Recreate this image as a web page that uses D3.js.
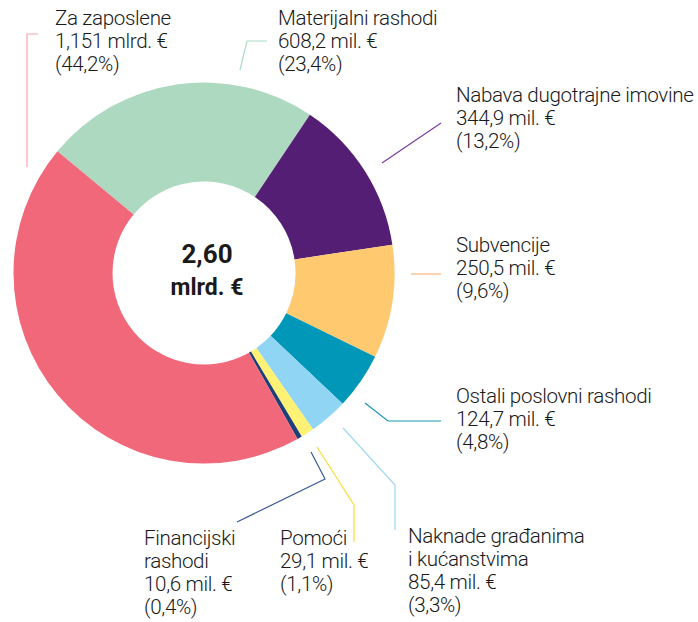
<!DOCTYPE html>
<html>
<head>
<meta charset="utf-8">
<script src="https://cdn.jsdelivr.net/npm/d3@7"></script>
<style>
  body { margin: 0; background: #fff; }
  svg text { font-family: Roboto, "Noto Sans", sans-serif; fill: #1a1a1a; }
</style>
</head>
<body>
<svg id="chart" width="698" height="622"></svg>
<script>
// slice order, clockwise from top-left
const categories = ['Materijalni rashodi', 'Nabava dugotrajne imovine', 'Subvencije',
  'Ostali poslovni rashodi', 'Naknade građanima i kućanstvima', 'Pomoći',
  'Financijski rashodi', 'Za zaposlene'];
const values = [608.2, 344.9, 250.5, 124.7, 85.4, 29.1, 10.6, 1151];
const valueLabels = ['608,2 mil. €', '344,9 mil. €', '250,5 mil. €', '124,7 mil. €',
  '85,4 mil. €', '29,1 mil. €', '10,6 mil. €', '1,151 mlrd. €'];
const shareLabels = ['(23,4%)', '(13,2%)', '(9,6%)', '(4,8%)', '(3,3%)', '(1,1%)', '(0,4%)', '(44,2%)'];
const nameLines = [['Materijalni rashodi'], ['Nabava dugotrajne imovine'], ['Subvencije'],
  ['Ostali poslovni rashodi'], ['Naknade građanima', 'i kućanstvima'], ['Pomoći'],
  ['Financijski', 'rashodi'], ['Za zaposlene']];
const totalLines = ['2,60', 'mlrd. €'];

const colors = ['#acd9bf', '#541e74', '#fec96f', '#0097b9', '#90d6f4', '#fff173', '#1f3f78', '#f0687a'];
const leaderColors = ['#a9dcc2', '#7a3d9c', '#f9b27a', '#1a97b5', '#9fd8f2', '#f5e03a', '#3a5a92', '#f5a3ac'];

// label placement (layout only)
const labelPos = [
  { x: 278, y: 25, line: [[240, 70], [247, 41], [267, 41]] },
  { x: 456, y: 102, line: [[382, 163], [441, 123]] },
  { x: 456, y: 252, line: [[411, 274], [441, 274]] },
  { x: 456, y: 403, line: [[365, 403], [388, 421], [441, 421]] },
  { x: 408, y: 543, line: [[343, 428], [395, 485], [395, 530]] },
  { x: 280, y: 545, line: [[317, 447], [354, 505], [354, 542]] },
  { x: 144, y: 545, line: [[311, 452], [325, 479], [237, 522]] },
  { x: 55, y: 25, line: [[38, 34], [27, 34], [27, 167]] }
];

const cx = 204, cy = 273, outerR = 190.5, innerR = 91.5;
const lineH = 23;
const svg = d3.select('#chart');

const startAngle = -50.3 * Math.PI / 180;

const pie = d3.pie()
  .sort(null)
  .value(d => d)
  .startAngle(startAngle)
  .endAngle(startAngle + 2 * Math.PI);

const arc = d3.arc().innerRadius(innerR).outerRadius(outerR);

const g = svg.append('g').attr('transform', `translate(${cx},${cy})`);
g.selectAll('path.slice')
  .data(pie(values))
  .join('path')
  .attr('class', 'slice')
  .attr('d', arc)
  .attr('fill', (d, i) => colors[i]);

// center total
svg.append('g')
  .selectAll('text')
  .data(totalLines)
  .join('text')
  .attr('x', cx + 3)
  .attr('y', (d, i) => [263, 295][i])
  .attr('text-anchor', 'middle')
  .style('font-weight', 700)
  .style('font-size', (d, i) => i === 0 ? '26px' : '23px')
  .text(d => d);

// leader lines
const line = d3.line();
svg.append('g')
  .selectAll('path')
  .data(labelPos)
  .join('path')
  .attr('d', d => line(d.line))
  .attr('fill', 'none')
  .attr('stroke', (d, i) => leaderColors[i])
  .attr('stroke-width', 1.2);

// labels
const labels = svg.append('g')
  .selectAll('text')
  .data(categories)
  .join('text')
  .attr('x', (d, i) => labelPos[i].x)
  .attr('y', (d, i) => labelPos[i].y)
  .style('font-size', '20.6px')
  .style('font-weight', 300)
  .style('letter-spacing', '-0.35px');

labels.each(function (d, i) {
  const rows = nameLines[i].concat([valueLabels[i], shareLabels[i]]);
  d3.select(this).selectAll('tspan')
    .data(rows)
    .join('tspan')
    .attr('x', labelPos[i].x)
    .attr('dy', (r, j) => j === 0 ? 0 : lineH)
    .text(r => r);
});
</script>
</body>
</html>
